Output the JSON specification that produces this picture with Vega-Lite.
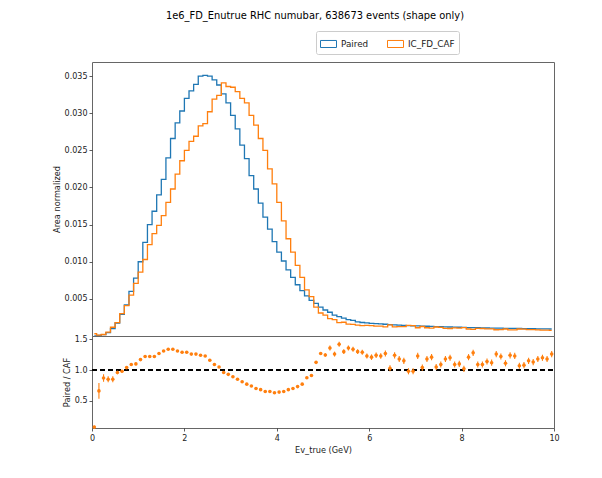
{
  "$schema": "https://vega.github.io/schema/vega-lite/v6.json",
  "background": "white",
  "padding": {"left": 51, "top": 10, "right": 20, "bottom": 6},
  "spacing": 0,
  "bounds": "flush",
  "data": {"values": [
    {"E":0.05,"Paired":0.00002,"IC_FD_CAF":0.0003,"ratio":0.07,"err":0.02},
    {"E":0.15,"Paired":0.00008,"IC_FD_CAF":0.00012,"ratio":0.66,"err":0.13},
    {"E":0.25,"Paired":0.00018,"IC_FD_CAF":0.0002,"ratio":0.87,"err":0.06},
    {"E":0.35,"Paired":0.00045,"IC_FD_CAF":0.00053,"ratio":0.85,"err":0.05},
    {"E":0.45,"Paired":0.0010,"IC_FD_CAF":0.00118,"ratio":0.85,"err":0.05},
    {"E":0.55,"Paired":0.00175,"IC_FD_CAF":0.0018,"ratio":0.96,"err":0.03},
    {"E":0.65,"Paired":0.0029,"IC_FD_CAF":0.0030,"ratio":0.98,"err":0.02},
    {"E":0.75,"Paired":0.0042,"IC_FD_CAF":0.0041,"ratio":1.04,"err":0.02},
    {"E":0.85,"Paired":0.0060,"IC_FD_CAF":0.0055,"ratio":1.09,"err":0.02},
    {"E":0.95,"Paired":0.0078,"IC_FD_CAF":0.0071,"ratio":1.10,"err":0.02},
    {"E":1.05,"Paired":0.0100,"IC_FD_CAF":0.0086,"ratio":1.17,"err":0.015},
    {"E":1.15,"Paired":0.0126,"IC_FD_CAF":0.0103,"ratio":1.22,"err":0.015},
    {"E":1.25,"Paired":0.0150,"IC_FD_CAF":0.0123,"ratio":1.22,"err":0.015},
    {"E":1.35,"Paired":0.0168,"IC_FD_CAF":0.0138,"ratio":1.22,"err":0.015},
    {"E":1.45,"Paired":0.0190,"IC_FD_CAF":0.0149,"ratio":1.27,"err":0.015},
    {"E":1.55,"Paired":0.0211,"IC_FD_CAF":0.0162,"ratio":1.31,"err":0.015},
    {"E":1.65,"Paired":0.0240,"IC_FD_CAF":0.0180,"ratio":1.34,"err":0.015},
    {"E":1.75,"Paired":0.0266,"IC_FD_CAF":0.0198,"ratio":1.34,"err":0.015},
    {"E":1.85,"Paired":0.0287,"IC_FD_CAF":0.0218,"ratio":1.31,"err":0.015},
    {"E":1.95,"Paired":0.0303,"IC_FD_CAF":0.0236,"ratio":1.29,"err":0.015},
    {"E":2.05,"Paired":0.0320,"IC_FD_CAF":0.0250,"ratio":1.29,"err":0.015},
    {"E":2.15,"Paired":0.0330,"IC_FD_CAF":0.0262,"ratio":1.26,"err":0.015},
    {"E":2.25,"Paired":0.0339,"IC_FD_CAF":0.0269,"ratio":1.26,"err":0.015},
    {"E":2.35,"Paired":0.0350,"IC_FD_CAF":0.0283,"ratio":1.24,"err":0.015},
    {"E":2.45,"Paired":0.0351,"IC_FD_CAF":0.0286,"ratio":1.23,"err":0.015},
    {"E":2.55,"Paired":0.0350,"IC_FD_CAF":0.0302,"ratio":1.16,"err":0.015},
    {"E":2.65,"Paired":0.0345,"IC_FD_CAF":0.0319,"ratio":1.09,"err":0.015},
    {"E":2.75,"Paired":0.0338,"IC_FD_CAF":0.0324,"ratio":1.05,"err":0.015},
    {"E":2.85,"Paired":0.0326,"IC_FD_CAF":0.0341,"ratio":0.96,"err":0.015},
    {"E":2.95,"Paired":0.0314,"IC_FD_CAF":0.0336,"ratio":0.93,"err":0.015},
    {"E":3.05,"Paired":0.0297,"IC_FD_CAF":0.0335,"ratio":0.89,"err":0.015},
    {"E":3.15,"Paired":0.0279,"IC_FD_CAF":0.0329,"ratio":0.85,"err":0.015},
    {"E":3.25,"Paired":0.0257,"IC_FD_CAF":0.0320,"ratio":0.81,"err":0.015},
    {"E":3.35,"Paired":0.0239,"IC_FD_CAF":0.0314,"ratio":0.77,"err":0.015},
    {"E":3.45,"Paired":0.0216,"IC_FD_CAF":0.0297,"ratio":0.74,"err":0.015},
    {"E":3.55,"Paired":0.0198,"IC_FD_CAF":0.0284,"ratio":0.70,"err":0.015},
    {"E":3.65,"Paired":0.0179,"IC_FD_CAF":0.0266,"ratio":0.68,"err":0.015},
    {"E":3.75,"Paired":0.0160,"IC_FD_CAF":0.0250,"ratio":0.65,"err":0.015},
    {"E":3.85,"Paired":0.0144,"IC_FD_CAF":0.0225,"ratio":0.65,"err":0.015},
    {"E":3.95,"Paired":0.0127,"IC_FD_CAF":0.0205,"ratio":0.63,"err":0.015},
    {"E":4.05,"Paired":0.0113,"IC_FD_CAF":0.0180,"ratio":0.64,"err":0.015},
    {"E":4.15,"Paired":0.0101,"IC_FD_CAF":0.0155,"ratio":0.65,"err":0.015},
    {"E":4.25,"Paired":0.0089,"IC_FD_CAF":0.0131,"ratio":0.68,"err":0.015},
    {"E":4.35,"Paired":0.0079,"IC_FD_CAF":0.0113,"ratio":0.70,"err":0.015},
    {"E":4.45,"Paired":0.0069,"IC_FD_CAF":0.0095,"ratio":0.73,"err":0.015},
    {"E":4.55,"Paired":0.0061,"IC_FD_CAF":0.0079,"ratio":0.77,"err":0.015},
    {"E":4.65,"Paired":0.0054,"IC_FD_CAF":0.0062,"ratio":0.875,"err":0.015},
    {"E":4.75,"Paired":0.0048,"IC_FD_CAF":0.0053,"ratio":0.91,"err":0.02},
    {"E":4.85,"Paired":0.0044,"IC_FD_CAF":0.0039,"ratio":1.125,"err":0.02},
    {"E":4.95,"Paired":0.0039,"IC_FD_CAF":0.0031,"ratio":1.27,"err":0.02},
    {"E":5.05,"Paired":0.0035,"IC_FD_CAF":0.0028,"ratio":1.245,"err":0.03},
    {"E":5.15,"Paired":0.0032,"IC_FD_CAF":0.00235,"ratio":1.36,"err":0.04},
    {"E":5.25,"Paired":0.0028,"IC_FD_CAF":0.0022,"ratio":1.26,"err":0.04},
    {"E":5.35,"Paired":0.0026,"IC_FD_CAF":0.0018,"ratio":1.42,"err":0.04},
    {"E":5.45,"Paired":0.0024,"IC_FD_CAF":0.00185,"ratio":1.30,"err":0.04},
    {"E":5.55,"Paired":0.0022,"IC_FD_CAF":0.0016,"ratio":1.36,"err":0.04},
    {"E":5.65,"Paired":0.0021,"IC_FD_CAF":0.00157,"ratio":1.34,"err":0.04},
    {"E":5.75,"Paired":0.0019,"IC_FD_CAF":0.00146,"ratio":1.30,"err":0.04},
    {"E":5.85,"Paired":0.00182,"IC_FD_CAF":0.00141,"ratio":1.29,"err":0.04},
    {"E":5.95,"Paired":0.00176,"IC_FD_CAF":0.00143,"ratio":1.23,"err":0.04},
    {"E":6.05,"Paired":0.0017,"IC_FD_CAF":0.0014,"ratio":1.21,"err":0.045},
    {"E":6.15,"Paired":0.00166,"IC_FD_CAF":0.00134,"ratio":1.24,"err":0.045},
    {"E":6.25,"Paired":0.00162,"IC_FD_CAF":0.00132,"ratio":1.23,"err":0.045},
    {"E":6.35,"Paired":0.00158,"IC_FD_CAF":0.00124,"ratio":1.27,"err":0.05},
    {"E":6.45,"Paired":0.00154,"IC_FD_CAF":0.0015,"ratio":1.03,"err":0.05},
    {"E":6.55,"Paired":0.0015,"IC_FD_CAF":0.00124,"ratio":1.24,"err":0.05},
    {"E":6.65,"Paired":0.00147,"IC_FD_CAF":0.00125,"ratio":1.18,"err":0.05},
    {"E":6.75,"Paired":0.00144,"IC_FD_CAF":0.00125,"ratio":1.15,"err":0.05},
    {"E":6.85,"Paired":0.00141,"IC_FD_CAF":0.00144,"ratio":0.98,"err":0.05},
    {"E":6.95,"Paired":0.00138,"IC_FD_CAF":0.00141,"ratio":0.98,"err":0.05},
    {"E":7.05,"Paired":0.00136,"IC_FD_CAF":0.00111,"ratio":1.23,"err":0.05},
    {"E":7.15,"Paired":0.00133,"IC_FD_CAF":0.00128,"ratio":1.04,"err":0.05},
    {"E":7.25,"Paired":0.00131,"IC_FD_CAF":0.00111,"ratio":1.18,"err":0.05},
    {"E":7.35,"Paired":0.00129,"IC_FD_CAF":0.00107,"ratio":1.21,"err":0.05},
    {"E":7.45,"Paired":0.00127,"IC_FD_CAF":0.00121,"ratio":1.05,"err":0.05},
    {"E":7.55,"Paired":0.00125,"IC_FD_CAF":0.00115,"ratio":1.09,"err":0.05},
    {"E":7.65,"Paired":0.00123,"IC_FD_CAF":0.00104,"ratio":1.18,"err":0.05},
    {"E":7.75,"Paired":0.00121,"IC_FD_CAF":0.00101,"ratio":1.20,"err":0.05},
    {"E":7.85,"Paired":0.00119,"IC_FD_CAF":0.00109,"ratio":1.09,"err":0.05},
    {"E":7.95,"Paired":0.00118,"IC_FD_CAF":0.00107,"ratio":1.10,"err":0.05},
    {"E":8.05,"Paired":0.00116,"IC_FD_CAF":0.00114,"ratio":1.02,"err":0.05},
    {"E":8.15,"Paired":0.00114,"IC_FD_CAF":0.00094,"ratio":1.21,"err":0.05},
    {"E":8.25,"Paired":0.00113,"IC_FD_CAF":0.00088,"ratio":1.28,"err":0.05},
    {"E":8.35,"Paired":0.00111,"IC_FD_CAF":0.00102,"ratio":1.09,"err":0.05},
    {"E":8.45,"Paired":0.0011,"IC_FD_CAF":0.00101,"ratio":1.09,"err":0.05},
    {"E":8.55,"Paired":0.00108,"IC_FD_CAF":0.00095,"ratio":1.14,"err":0.05},
    {"E":8.65,"Paired":0.00107,"IC_FD_CAF":0.00096,"ratio":1.12,"err":0.05},
    {"E":8.75,"Paired":0.00106,"IC_FD_CAF":0.00084,"ratio":1.26,"err":0.05},
    {"E":8.85,"Paired":0.00105,"IC_FD_CAF":0.00086,"ratio":1.22,"err":0.05},
    {"E":8.95,"Paired":0.00104,"IC_FD_CAF":0.00094,"ratio":1.11,"err":0.05},
    {"E":9.05,"Paired":0.00103,"IC_FD_CAF":0.00083,"ratio":1.24,"err":0.05},
    {"E":9.15,"Paired":0.00102,"IC_FD_CAF":0.00083,"ratio":1.23,"err":0.05},
    {"E":9.25,"Paired":0.00101,"IC_FD_CAF":0.00094,"ratio":1.07,"err":0.05},
    {"E":9.35,"Paired":0.0010,"IC_FD_CAF":0.00093,"ratio":1.08,"err":0.05},
    {"E":9.45,"Paired":0.00099,"IC_FD_CAF":0.00086,"ratio":1.15,"err":0.05},
    {"E":9.55,"Paired":0.00098,"IC_FD_CAF":0.00087,"ratio":1.13,"err":0.05},
    {"E":9.65,"Paired":0.00097,"IC_FD_CAF":0.00082,"ratio":1.18,"err":0.05},
    {"E":9.75,"Paired":0.00096,"IC_FD_CAF":0.0008,"ratio":1.20,"err":0.05},
    {"E":9.85,"Paired":0.00095,"IC_FD_CAF":0.0008,"ratio":1.18,"err":0.05},
    {"E":9.95,"Paired":0.00094,"IC_FD_CAF":0.00075,"ratio":1.26,"err":0.05}
  ]},
  "vconcat": [
    {
      "width": 462,
      "height": 274,
      "title": {"text": "1e6_FD_Enutrue RHC numubar, 638673 events (shape only)", "anchor": "middle", "dx": -8, "offset": 41, "fontSize": 9.9, "font": "DejaVu Sans", "fontWeight": "normal", "color": "#000"},
      "transform": [{"fold": ["Paired", "IC_FD_CAF"], "as": ["series", "value"]}],
      "mark": {"type": "line", "interpolate": "step", "strokeWidth": 1.3, "clip": true},
      "encoding": {
        "x": {"field": "E", "type": "quantitative", "scale": {"domain": [0, 10], "nice": false, "zero": false}, "axis": null},
        "y": {"field": "value", "type": "quantitative", "scale": {"domain": [0, 0.0369], "nice": false},
              "axis": {"values": [0.005, 0.01, 0.015, 0.02, 0.025, 0.03, 0.035], "format": ".3f", "title": "Area normalized"}},
        "color": {"field": "series", "type": "nominal", "sort": ["Paired", "IC_FD_CAF"],
                  "scale": {"domain": ["Paired", "IC_FD_CAF"], "range": ["#1f77b4", "#ff7f0e"]},
                  "legend": {"orient": "none", "legendX": 224, "legendY": -31, "direction": "horizontal", "title": null,
                             "padding": 4, "strokeColor": "#cccccc", "fillColor": "white", "cornerRadius": 2,
                             "symbolType": "M-1,-0.44H1V0.44H-1Z", "symbolSize": 256, "symbolStrokeWidth": 1,
                             "symbolFillColor": "transparent",
                             "labelFont": "DejaVu Sans", "labelFontSize": 8.8, "labelColor": "#222", "labelOffset": 4, "columnPadding": 16}}
      }
    },
    {
      "width": 462,
      "height": 92,
      "encoding": {
        "x": {"field": "E", "type": "quantitative", "scale": {"domain": [0, 10], "nice": false, "zero": false},
              "axis": {"values": [0, 2, 4, 6, 8, 10], "format": "d", "title": "Ev_true (GeV)", "labelFlush": false, "labelPadding": 3.5, "titlePadding": 4}},
        "y": {"field": "ratio", "type": "quantitative", "scale": {"domain": [0.055, 1.555], "nice": false, "zero": false},
              "axis": {"values": [0.5, 1.0, 1.5], "format": ".1f", "title": "Paired / CAF"}}
      },
      "layer": [
        {"mark": {"type": "rule", "strokeDash": [5, 3], "color": "black", "strokeWidth": 1},
         "encoding": {"x": {"value": 0}, "x2": {"value": 462}, "y": {"datum": 1, "type": "quantitative"}}},
        {"mark": {"type": "errorbar", "color": "#ff7f0e", "thickness": 1.1},
         "encoding": {"yError": {"field": "err"}}},
        {"mark": {"type": "point", "filled": true, "color": "#ff7f0e", "size": 13, "opacity": 1}}
      ]
    }
  ],
  "config": {
    "font": "DejaVu Sans",
    "view": {"stroke": "#666666", "strokeWidth": 1},
    "axis": {"domain": false, "grid": false, "tickColor": "#333333", "tickSize": 3, "tickWidth": 0.8,
             "labelFont": "DejaVu Sans", "labelFontSize": 8, "labelColor": "#222222", "labelPadding": 2,
             "titleFont": "DejaVu Sans", "titleFontSize": 8.2, "titleFontWeight": "normal", "titleColor": "#222222", "titlePadding": 3}
  }
}
